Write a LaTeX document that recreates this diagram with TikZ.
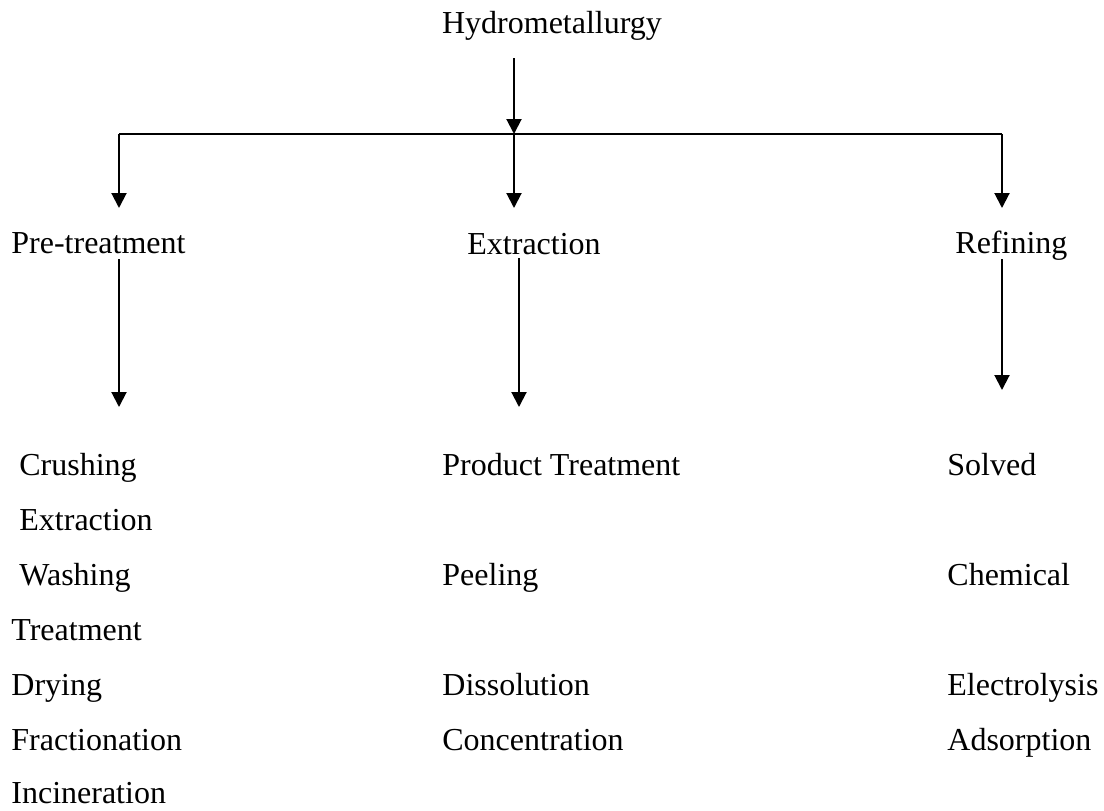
\documentclass[tikz,border=0pt]{standalone}
\usepackage{fontspec}
\setmainfont{Liberation Serif}
\usetikzlibrary{arrows.meta,calc}
\begin{document}
\begin{tikzpicture}[x=0.5pt,y=-0.5pt,
  lbl/.style={anchor=base west,inner sep=0pt,font=\fontsize{16}{19}\selectfont},
  head/.style={lbl,anchor=base},
  arr/.style={line width=1pt,-{Triangle[width=7.5pt,length=7.5pt]}},
  bus/.style={line width=0.8pt}]
\useasboundingbox (0,0) rectangle (1104,810);

% title and the three stages
\node[head] (hydro) at (552,33) {Hydrometallurgy};
\node[lbl] (pre) at (11,253) {Pre-treatment};
\node[lbl] (ext) at (467,254) {Extraction};
\node[lbl] (ref) at (955,253) {Refining};

% pre-treatment steps
\node[lbl] (crush) at (19,475) {Crushing};
\node[lbl] (extr)  at (19,530) {Extraction};
\node[lbl] (wash)  at (19,585) {Washing};
\node[lbl] (treat) at (11,640) {Treatment};
\node[lbl] (dry)   at (11,695) {Drying};
\node[lbl] (frac)  at (11,750) {Fractionation};
\node[lbl] (inc)   at (11,803) {Incineration};

% extraction steps
\node[lbl] (prod)  at (442,475) {Product Treatment};
\node[lbl] (peel)  at (442,585) {Peeling};
\node[lbl] (diss)  at (442,695) {Dissolution};
\node[lbl] (conc)  at (442,750) {Concentration};

% refining steps
\node[lbl] (solv)  at (947,475) {Solved};
\node[lbl] (chem)  at (947,585) {Chemical};
\node[lbl] (elec)  at (947,695) {Electrolysis};
\node[lbl] (ads)   at (947,750) {Adsorption};

% junctions on the distribution bar
\coordinate (jL) at (119,134);
\coordinate (jM) at (514,134);
\coordinate (jR) at (1002,134);

% feed from the title
\draw[arr] ($(hydro.base -| jM)+(0,25)$) -- (jM);
% distribution bar
\draw[bus] (jL) -- (jR);
\draw[arr] (jL) -- ($(pre.base -| jL)+(0,-45)$);
\draw[arr] (jM) -- ($(ext.base -| jM)+(0,-46)$);
\draw[arr] (jR) -- ($(ref.base -| jR)+(0,-45)$);

% arrows down to the step lists
\coordinate (dL) at (119,0);
\coordinate (dM) at (519,0);
\coordinate (dR) at (1002,0);
\draw[arr] ($(pre.base -| dL)+(0,6)$) -- ($(crush.base -| dL)+(0,-68)$);
\draw[arr] ($(ext.base -| dM)+(0,4)$) -- ($(prod.base -| dM)+(0,-68)$);
\draw[arr] ($(ref.base -| dR)+(0,6)$) -- ($(solv.base -| dR)+(0,-85)$);
\end{tikzpicture}
\end{document}
